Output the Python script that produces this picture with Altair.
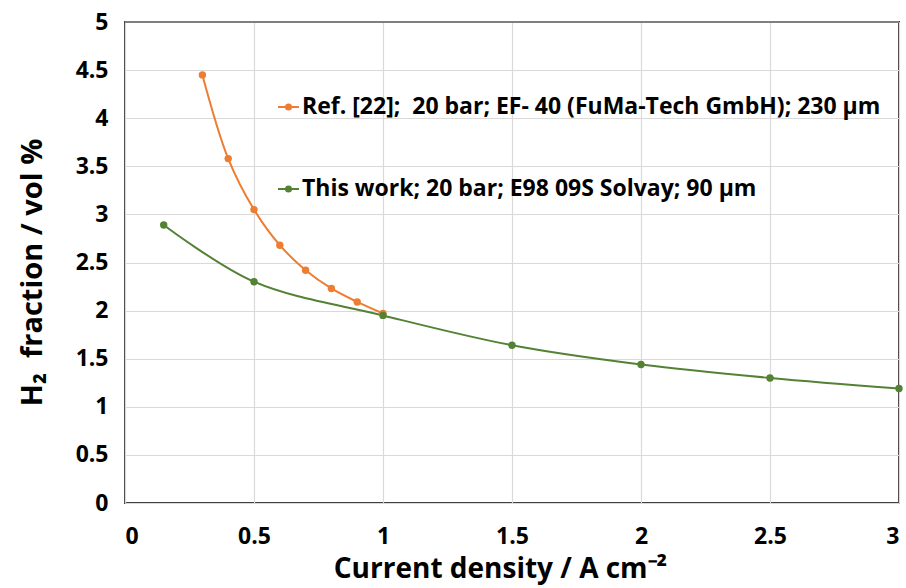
import altair as alt
import pandas as pd

# Series: H2 fraction in O2 vs current density
ref_x = [0.3, 0.4, 0.5, 0.6, 0.7, 0.8, 0.9, 1.0]
ref_y = [4.45, 3.58, 3.05, 2.68, 2.42, 2.23, 2.09, 1.97]
work_x = [0.15, 0.5, 1.0, 1.5, 2.0, 2.5, 3.0]
work_y = [2.89, 2.30, 1.95, 1.64, 1.44, 1.30, 1.19]

series_names = [
    "Ref. [22];\u00a0 20 bar; EF- 40 (FuMa-Tech GmbH); 230 µm",
    "This work; 20 bar; E98 09S Solvay; 90 µm",
]
series_colors = ["#ED7D31", "#548235"]

x_ticks = [0, 0.5, 1, 1.5, 2, 2.5, 3]
y_ticks = [0, 0.5, 1, 1.5, 2, 2.5, 3, 3.5, 4, 4.5, 5]

FONT = "Open Sans"

df = pd.concat([
    pd.DataFrame({"x": ref_x, "y": ref_y, "series": series_names[0]}),
    pd.DataFrame({"x": work_x, "y": work_y, "series": series_names[1]}),
])

color = alt.Color("series:N",
                  scale=alt.Scale(domain=series_names, range=series_colors),
                  legend=None)

xenc = alt.X("x:Q",
             scale=alt.Scale(domain=[0, 3], nice=False),
             axis=alt.Axis(values=x_ticks, title="Current density / A cm⁻²",
                           labelExpr="datum.value", grid=True, titleX=375))
yenc = alt.Y("y:Q",
             scale=alt.Scale(domain=[0, 5], nice=False),
             axis=alt.Axis(values=y_ticks, title="H₂\u00a0 fraction / vol %",
                           labelExpr="datum.value", grid=True, titleY=250))

lines = alt.Chart(df).mark_line(interpolate="catmull-rom", strokeWidth=2).encode(
    x=xenc, y=yenc, color=color, detail="series:N")
points = alt.Chart(df).mark_circle(size=55, opacity=1).encode(
    x="x:Q", y="y:Q", color=color)

# In-plot legend: sample line with marker, then the series label
leg = pd.DataFrame({"series": series_names, "row": [0, 1]})
leg_y = "datum.row == 0 ? 85 : 167"
leg_base = alt.Chart(leg).transform_calculate(py=leg_y)
leg_line = leg_base.mark_rule(strokeWidth=2).encode(
    x=alt.value(153), x2=alt.value(174), y=alt.Y("py:Q", scale=None), color=color)
leg_dot = leg_base.mark_circle(size=50, opacity=1).encode(
    x=alt.value(163.5), y=alt.Y("py:Q", scale=None), color=color)
leg_text = leg_base.mark_text(
    align="left", baseline="middle", font=FONT, fontWeight="bold",
    fontSize=23, color="black").encode(
    x=alt.value(177), y=alt.Y("py:Q", scale=None), text="series:N")

top_rule = alt.Chart(pd.DataFrame({"y": [5]})).mark_rule(
    color="#7f7f7f", strokeWidth=2).encode(
    y="y:Q", x=alt.value(0), x2=alt.value(774))

chart = alt.layer(lines, points, top_rule, leg_line, leg_dot, leg_text).properties(
    width=774, height=481,
    padding={"left": 125, "top": 22, "right": 7, "bottom": 85},
    autosize=alt.AutoSizeParams(type="none"),
    background="white",
).configure_view(
    stroke="#404040", strokeWidth=2
).configure_axis(
    gridColor="#d9d9d9", gridWidth=1.2, domain=False, ticks=False,
    labelFont=FONT, labelFontWeight="bold", labelFontSize=23, labelColor="black",
    titleFont=FONT, titleFontWeight="bold", titleFontSize=29, titleColor="black",
).configure_axisX(
    labelPadding=22, titlePadding=7, titleFontSize=28
).configure_axisY(
    labelPadding=17, titlePadding=28
)

chart.save("out.html", embed_options={"renderer": "svg", "actions": False})
